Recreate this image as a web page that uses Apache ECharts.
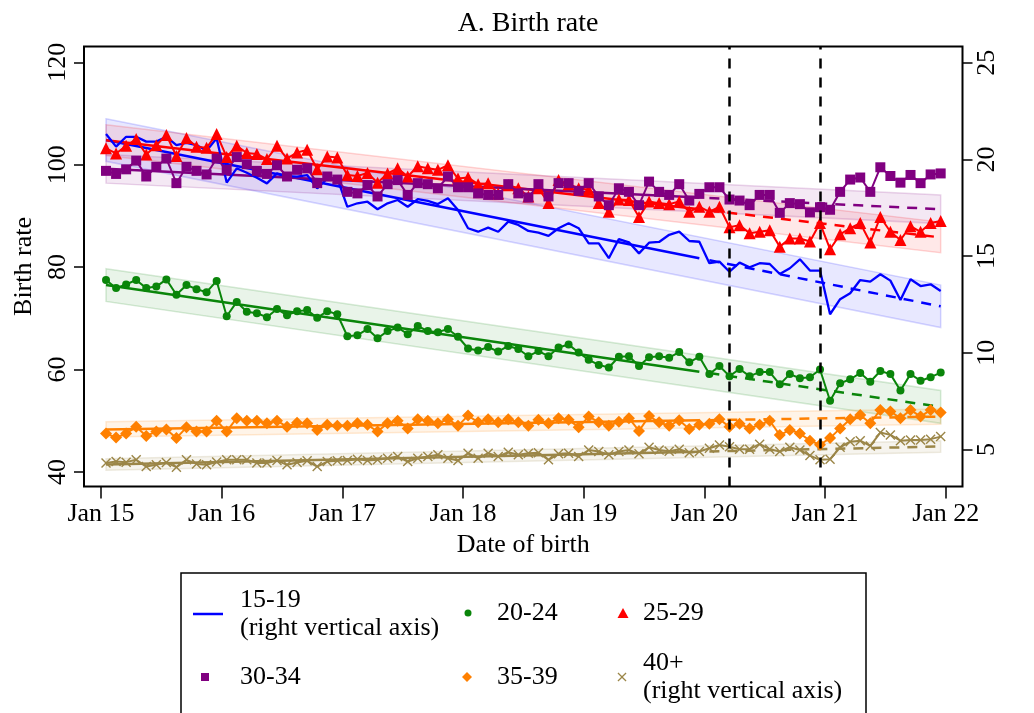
<!DOCTYPE html>
<html>
<head>
<meta charset="utf-8">
<title>A. Birth rate</title>
<script src="https://cdn.jsdelivr.net/npm/echarts@6.0.0/dist/echarts.min.js"></script>
<style>
  html, body { margin: 0; padding: 0; background: #fff; }
  #chart { width: 1034px; height: 713px; }
</style>
</head>
<body>
<div id="chart"></div>
<script>
// Monthly birth rates, Jan 2015 (month 0) to Dec 2021 (month 83), by mother's age group.
// 15-19 and 40+ are read on the right vertical axis.
const yearTicks = [0, 12, 24, 36, 48, 60, 72, 84];
const yearLabels = ['Jan 15', 'Jan 16', 'Jan 17', 'Jan 18', 'Jan 19', 'Jan 20', 'Jan 21', 'Jan 22'];
const leftTicks = [40, 60, 80, 100, 120];
const rightTicks = [5, 10, 15, 20, 25];
const eventMonths = [62, 71];            // Mar 2020, Dec 2020

const rate15_19 = [21.31, 20.66, 21.17, 21.17, 20.92, 20.92, 21.17, 20.74, 20.86, 20.74, 20.45, 21.09,
  18.80, 19.54, 19.31, 19.05, 18.76, 19.28, 19.14, 19.11, 19.19, 18.50, 19.02, 19.02,
  17.55, 17.73, 17.81, 17.42, 17.73, 17.90, 17.55, 17.94, 17.85, 17.69, 17.99, 17.38,
  16.44, 16.26, 16.47, 16.26, 16.78, 16.61, 16.30, 16.21, 16.04, 16.44, 16.70, 16.44,
  15.66, 15.66, 14.89, 15.88, 15.71, 15.14, 15.69, 15.73, 16.10, 16.26, 15.78, 15.74,
  14.63, 14.71, 14.19, 14.66, 14.42, 14.63, 14.59, 14.07, 14.37, 14.83, 14.25, 14.25,
  11.99, 12.77, 13.08, 13.76, 13.68, 14.06, 13.73, 12.73, 13.80, 13.45, 13.54, 13.19];
const rate20_24 = [77.5, 75.9, 76.6, 77.5, 75.9, 76.2, 77.6, 74.6, 76.5, 75.7, 75.1, 77.3,
  70.4, 73.2, 71.3, 71.0, 70.2, 71.8, 70.6, 71.4, 71.6, 70.1, 71.4, 70.8,
  66.5, 66.7, 67.9, 66.1, 67.5, 68.2, 66.9, 68.5, 67.5, 67.3, 67.9, 66.4,
  64.1, 63.7, 64.4, 63.5, 64.6, 64.0, 62.6, 63.6, 62.6, 64.3, 64.9, 63.3,
  61.9, 60.9, 60.4, 62.5, 62.6, 60.7, 62.4, 62.6, 62.3, 63.4, 61.4, 62.5,
  59.1, 60.7, 58.7, 60.1, 58.7, 59.5, 59.5, 57.1, 59.1, 58.3, 58.5, 60.0,
  53.9, 57.3, 58.1, 59.3, 57.6, 59.7, 59.1, 55.9, 59.1, 57.8, 58.5, 59.4];
const rate25_29 = [103.2, 102.2, 103.7, 105.0, 102.0, 103.8, 105.8, 101.7, 105.2, 103.5, 103.3, 106.0,
  101.5, 103.7, 102.3, 102.1, 101.1, 103.7, 101.2, 102.4, 102.9, 99.1, 101.6, 101.4,
  98.0, 97.8, 98.4, 96.5, 98.3, 99.3, 97.7, 99.7, 99.3, 99.0, 99.9, 97.3,
  97.5, 96.2, 96.4, 94.4, 96.0, 95.4, 93.8, 95.4, 92.5, 97.0, 96.2, 95.4,
  95.1, 92.5, 90.8, 93.2, 93.1, 89.8, 92.8, 92.5, 92.3, 92.8, 90.8, 91.8,
  90.8, 91.8, 87.8, 88.2, 86.6, 86.9, 87.2, 84.0, 85.6, 85.6, 85.0, 88.6,
  83.5, 86.4, 87.6, 88.6, 84.8, 89.8, 86.9, 85.3, 88.0, 86.9, 88.6, 89.0];
const rate30_34 = [98.8, 98.2, 99.1, 100.8, 97.7, 99.6, 101.2, 96.4, 99.6, 98.8, 98.1, 101.2,
  99.0, 101.5, 100.1, 98.8, 98.2, 99.9, 97.7, 99.0, 99.3, 96.4, 97.7, 97.1,
  94.7, 94.4, 96.0, 93.8, 96.2, 97.0, 94.1, 96.4, 96.2, 95.4, 97.7, 95.6,
  95.6, 94.4, 94.1, 94.1, 96.2, 94.4, 93.6, 96.2, 93.8, 96.4, 96.4, 94.9,
  96.4, 93.8, 92.1, 95.4, 94.7, 92.1, 96.7, 94.7, 94.1, 96.2, 93.0, 94.3,
  95.6, 95.6, 93.2, 93.0, 92.1, 94.1, 94.1, 90.6, 92.5, 92.3, 90.7, 91.7,
  91.2, 94.7, 97.1, 97.5, 94.7, 99.5, 97.8, 96.5, 98.0, 96.4, 98.1, 98.3];
const rate35_39 = [47.5, 46.7, 47.5, 48.8, 47.0, 47.9, 48.3, 46.6, 48.7, 47.9, 47.9, 50.0,
  47.9, 50.5, 50.0, 50.0, 49.5, 50.0, 48.8, 49.6, 49.5, 48.2, 49.2, 49.0,
  49.0, 49.5, 49.2, 47.9, 49.5, 50.0, 48.5, 50.3, 50.0, 49.5, 50.3, 49.0,
  51.0, 49.7, 50.3, 49.7, 50.3, 49.7, 49.0, 50.2, 49.5, 50.5, 50.2, 48.7,
  50.8, 49.7, 49.0, 49.8, 50.5, 48.0, 50.9, 49.7, 49.0, 50.1, 48.4, 49.2,
  49.4, 50.3, 48.8, 49.4, 48.5, 49.2, 50.0, 47.2, 48.2, 47.5, 46.1, 45.3,
  46.6, 48.5, 50.3, 51.1, 49.5, 52.1, 51.8, 50.5, 52.1, 50.8, 52.1, 51.6];
const rate40plus = [4.29, 4.37, 4.34, 4.46, 4.11, 4.20, 4.32, 4.08, 4.46, 4.25, 4.20, 4.35,
  4.46, 4.46, 4.46, 4.29, 4.29, 4.42, 4.20, 4.32, 4.41, 4.11, 4.37, 4.41,
  4.42, 4.49, 4.42, 4.46, 4.54, 4.63, 4.37, 4.54, 4.63, 4.72, 4.54, 4.42,
  4.80, 4.54, 4.80, 4.63, 4.85, 4.72, 4.80, 4.83, 4.46, 4.77, 4.80, 4.63,
  4.97, 4.89, 4.72, 4.89, 4.97, 4.77, 5.11, 4.97, 4.90, 5.01, 4.83, 4.89,
  5.06, 5.23, 5.14, 5.01, 5.01, 5.27, 5.01, 4.89, 5.11, 4.97, 4.68, 4.46,
  4.49, 5.11, 5.40, 5.45, 5.18, 5.87, 5.75, 5.45, 5.49, 5.49, 5.53, 5.66];

// Linear trend fitted on 2015-2019: value at months 0 and 59 (fit), 60 and 83 (projection).
const trendMonths = [0, 59, 60, 83];
const trend15_19 = [21.0, 14.89, 14.78, 12.4];
const trend20_24 = [76.5, 59.58, 59.30, 52.7];
const trend25_29 = [104.8, 91.29, 91.07, 85.8];
const trend30_34 = [99.2, 93.58, 93.49, 91.3];
const trend35_39 = [48.3, 50.08, 50.11, 50.8];
const trend40plus = [4.22, 4.88, 4.89, 5.15];

// Confidence band of the trend at the first and last month.
const bandMonths = [0, 83];
const bandLo15_19 = [19.9, 11.3],  bandHi15_19 = [22.1, 13.5];
const bandLo20_24 = [73.3, 49.5],  bandHi20_24 = [79.7, 55.9];
const bandLo25_29 = [101.8, 82.8], bandHi25_29 = [107.8, 88.8];
const bandLo30_34 = [96.4, 88.5],  bandHi30_34 = [102.0, 94.1];
const bandLo35_39 = [46.8, 49.3],  bandHi35_39 = [49.8, 52.3];
const bandLo40plus = [3.92, 4.85], bandHi40plus = [4.52, 5.45];

const FONT = "'Liberation Serif', 'Times New Roman', serif";
const X_PATH = 'path://M1,0L5,4L9,0L10,1L6,5L10,9L9,10L5,6L1,10L0,9L4,5L0,1Z';

const groups = [
  { name: '15-19', values: rate15_19, trend: trend15_19, lo: bandLo15_19, hi: bandHi15_19, axis: 1,
    color: '#0000ff', rgb: [0, 0, 255], symbol: 'none', size: 0 },
  { name: '20-24', values: rate20_24, trend: trend20_24, lo: bandLo20_24, hi: bandHi20_24, axis: 0,
    color: '#0a850a', rgb: [10, 133, 10], symbol: 'circle', size: 8 },
  { name: '25-29', values: rate25_29, trend: trend25_29, lo: bandLo25_29, hi: bandHi25_29, axis: 0,
    color: '#ff0000', rgb: [255, 0, 0], symbol: 'triangle', size: 12 },
  { name: '30-34', values: rate30_34, trend: trend30_34, lo: bandLo30_34, hi: bandHi30_34, axis: 0,
    color: '#800080', rgb: [128, 0, 128], symbol: 'rect', size: 10 },
  { name: '35-39', values: rate35_39, trend: trend35_39, lo: bandLo35_39, hi: bandHi35_39, axis: 0,
    color: '#ff8000', rgb: [255, 128, 0], symbol: 'diamond', size: 12 },
  { name: '40+', values: rate40plus, trend: trend40plus, lo: bandLo40plus, hi: bandHi40plus, axis: 1,
    color: '#9b8648', rgb: [155, 134, 72], symbol: X_PATH, size: 10 }
];

const rgba = (c, a) => `rgba(${c[0]},${c[1]},${c[2]},${a})`;
// values are monthly, plotted at the middle of their month
const atMonths = (months, vals) => vals.map((v, k) => [months[k] + 0.5, v]);

function bandSeries(g) {
  const rows = bandMonths.map((m, k) => [m + 0.5, g.lo[k], g.hi[k]]);
  return {
    type: 'custom', yAxisIndex: g.axis, data: rows, silent: true, z: 1,
    encode: { x: 0, y: [1, 2] },
    renderItem: (params, api) => {
      if (params.dataIndex !== 0) return null;
      const upper = rows.map(r => api.coord([r[0], r[2]]));
      const lower = rows.map(r => api.coord([r[0], r[1]])).reverse();
      return {
        type: 'polygon',
        shape: { points: upper.concat(lower) },
        style: { fill: rgba(g.rgb, 0.09), stroke: rgba(g.rgb, 0.16), lineWidth: 1.5 }
      };
    }
  };
}

const series = [];
groups.forEach(g => series.push(bandSeries(g)));
groups.forEach(g => {
  series.push({
    type: 'line', yAxisIndex: g.axis, silent: true, symbol: 'none', z: 3,
    data: atMonths(trendMonths.slice(0, 2), g.trend.slice(0, 2)),
    lineStyle: { color: g.color, width: 2.5 }
  });
  series.push({
    type: 'line', yAxisIndex: g.axis, silent: true, symbol: 'none', z: 3,
    data: atMonths(trendMonths.slice(2), g.trend.slice(2)),
    lineStyle: { color: g.color, width: 2.5, type: [10, 8] }
  });
});
groups.forEach(g => {
  series.push({
    name: g.name, type: 'line', yAxisIndex: g.axis, z: 4,
    data: g.values.map((v, i) => [i + 0.5, v]),
    symbol: g.symbol, symbolSize: g.size, showSymbol: g.symbol !== 'none',
    lineStyle: { color: g.color, width: g.symbol === 'none' ? 2.3 : 2 },
    itemStyle: { color: g.color, borderWidth: 0 }
  });
});
// vertical reference lines
series.push({
  type: 'line', data: [], silent: true, z: 5,
  markLine: {
    silent: true, symbol: ['none', 'none'], label: { show: false }, animation: false,
    lineStyle: { color: '#000', width: 2.5, type: [10, 9] },
    data: eventMonths.map(m => ({ xAxis: m + 0.5 }))
  }
});

const legendBase = {
  orient: 'horizontal', padding: 0, selectedMode: false, itemGap: 0,
  textStyle: { fontFamily: FONT, fontSize: 26, color: '#000', lineHeight: 28 }
};
function legendFor(name, icon, w, h, left, top, pad, text) {
  return Object.assign({}, legendBase, {
    data: [{ name, icon }], left, top, itemWidth: w, itemHeight: h,
    formatter: () => text,
    textStyle: Object.assign({}, legendBase.textStyle, { padding: [0, 0, 0, pad] })
  });
}

const option = {
  animation: false,
  backgroundColor: '#fff',
  title: {
    text: 'A. Birth rate', left: 523, top: 5, textAlign: 'center',
    textStyle: { fontFamily: FONT, fontSize: 28, fontWeight: 'normal', color: '#000' }
  },
  grid: {
    left: 84, right: 71.5, top: 46.5, bottom: 226.5,
    show: true, borderColor: '#000', borderWidth: 2, backgroundColor: 'transparent',
    outerBoundsMode: 'none'
  },
  xAxis: {
    type: 'value', min: -1.69, max: 85.67,
    name: 'Date of birth', nameLocation: 'middle', nameGap: 46,
    nameTextStyle: { fontFamily: FONT, fontSize: 26, color: '#000' },
    axisLine: { show: false, onZero: false },
    splitLine: { show: false },
    axisTick: { show: true, customValues: yearTicks, length: 12, lineStyle: { color: '#000', width: 1.5 } },
    axisLabel: {
      customValues: yearTicks, margin: 15,
      formatter: v => yearLabels[yearTicks.indexOf(v)],
      fontFamily: FONT, fontSize: 26, color: '#000'
    }
  },
  yAxis: [
    {
      type: 'value', min: 37.15, max: 123.09, position: 'left',
      name: 'Birth rate', nameLocation: 'middle', nameGap: 44, nameRotate: 90,
      nameTextStyle: { fontFamily: FONT, fontSize: 26, color: '#000' },
      axisLine: { show: false, onZero: false },
      splitLine: { show: false },
      axisTick: { show: true, customValues: leftTicks, length: 10, lineStyle: { color: '#000', width: 1.5 } },
      axisLabel: { customValues: leftTicks, rotate: 90, margin: 13, fontFamily: FONT, fontSize: 26, color: '#000' }
    },
    {
      type: 'value', min: 3.08, max: 25.84, position: 'right',
      axisLine: { show: false, onZero: false },
      splitLine: { show: false },
      axisTick: { show: true, customValues: rightTicks, length: 10, lineStyle: { color: '#000', width: 1.5 } },
      axisLabel: { customValues: rightTicks, rotate: 90, margin: 12, fontFamily: FONT, fontSize: 26, color: '#000' }
    }
  ],
  legend: [
    legendFor('15-19', 'path://M0,0H30V2.5H0Z', 30, 2.5, 193, 586, 12, '15-19\n(right vertical axis)'),
    legendFor('20-24', 'circle', 7, 7, 464.5, 599, 20.5, '20-24'),
    legendFor('25-29', 'triangle', 11, 10, 617.5, 599, 9.5, '25-29'),
    legendFor('30-34', 'rect', 8, 8, 201, 663, 26, '30-34'),
    legendFor('35-39', 'diamond', 10, 10, 462, 663, 20, '35-39'),
    legendFor('40+', X_PATH, 9, 9, 617.5, 649, 11.5, '40+\n(right vertical axis)')
  ],
  graphic: [{
    type: 'rect', silent: true, z: 0,
    shape: { x: 181, y: 573, width: 685, height: 200 },
    style: { fill: 'none', stroke: '#000', lineWidth: 1.5 }
  }],
  series
};

const chart = echarts.init(document.getElementById('chart'), null, { renderer: 'canvas' });
chart.setOption(option);
</script>
</body>
</html>
